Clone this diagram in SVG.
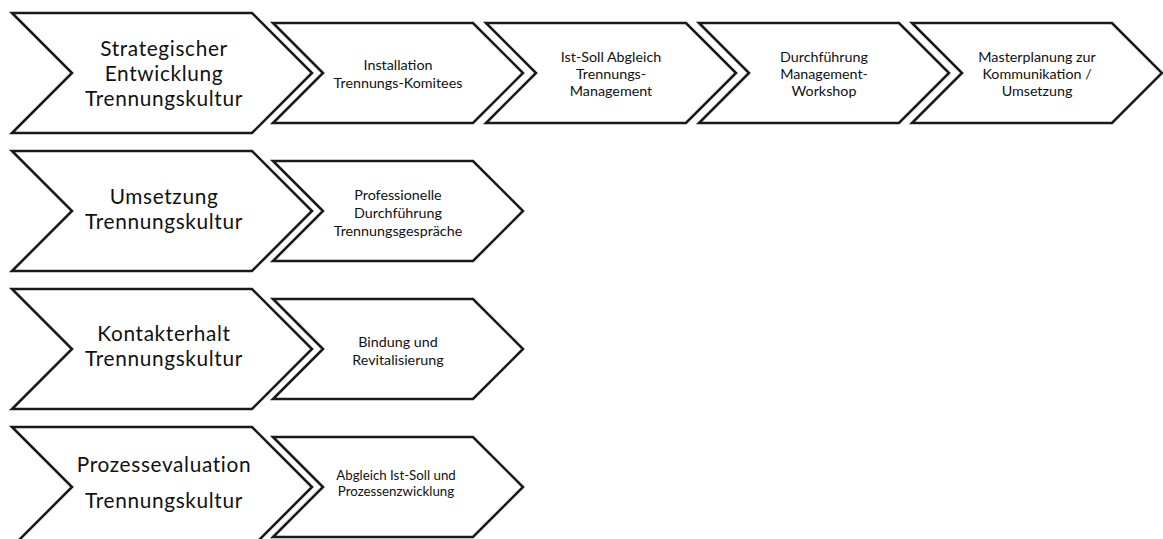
<svg xmlns="http://www.w3.org/2000/svg" xmlns:xlink="http://www.w3.org/1999/xlink" width="1163" height="539" viewBox="0 0 1163 539">
<style>
.shape{fill:#ffffff;stroke:#1a1a1a;stroke-width:2.6;stroke-linejoin:miter}
.big{font-family:Lato,"Open Sans","Liberation Sans",sans-serif;font-size:20.8px;letter-spacing:0.65px;fill:#111;text-anchor:middle}
.small{font-family:Lato,"Open Sans","Liberation Sans",sans-serif;font-size:14.3px;fill:#111;text-anchor:middle}
</style>
<defs>
<polygon id="bigChev" points="12,-60 252,-60 312,0 252,60 12,60 72,0"/>
<polygon id="smallChev" points="0,-50 200,-50 250,0 200,50 0,50 50,0"/>
</defs>
<rect width="1163" height="539" fill="#ffffff"/>
<g id="connectors"></g>

<g id="row1-main" transform="translate(0,73)">
<use xlink:href="#bigChev" class="shape"/>
<text class="big"><tspan x="164" y="-17">Strategischer</tspan><tspan x="164" y="8">Entwicklung</tspan><tspan x="164" y="33">Trennungskultur</tspan></text>
</g>
<g id="row1-step1" transform="translate(273,73)">
<use xlink:href="#smallChev" class="shape"/>
<text class="small"><tspan x="125" y="-3">Installation</tspan><tspan x="125" y="14.5">Trennungs-Komitees</tspan></text>
</g>
<g id="row1-step2" transform="translate(486,73)">
<use xlink:href="#smallChev" class="shape"/>
<text class="small"><tspan x="125" y="-11.5">Ist-Soll Abgleich</tspan><tspan x="125" y="5.5">Trennungs-</tspan><tspan x="125" y="22.5">Management</tspan></text>
</g>
<g id="row1-step3" transform="translate(699,73)">
<use xlink:href="#smallChev" class="shape"/>
<text class="small"><tspan x="125" y="-11.5">Durchführung</tspan><tspan x="125" y="5.5">Management-</tspan><tspan x="125" y="22.5">Workshop</tspan></text>
</g>
<g id="row1-step4" transform="translate(912,73)">
<use xlink:href="#smallChev" class="shape"/>
<text class="small"><tspan x="125" y="-11.5">Masterplanung zur</tspan><tspan x="125" y="5.5">Kommunikation /</tspan><tspan x="125" y="22.5">Umsetzung</tspan></text>
</g>

<g id="row2-main" transform="translate(0,211)">
<use xlink:href="#bigChev" class="shape"/>
<text class="big"><tspan x="164" y="-7">Umsetzung</tspan><tspan x="164" y="18">Trennungskultur</tspan></text>
</g>
<g id="row2-step1" transform="translate(273,211)">
<use xlink:href="#smallChev" class="shape"/>
<text class="small"><tspan x="125" y="-11">Professionelle</tspan><tspan x="125" y="7">Durchführung</tspan><tspan x="125" y="25">Trennungsgespräche</tspan></text>
</g>

<g id="row3-main" transform="translate(0,349)">
<use xlink:href="#bigChev" class="shape"/>
<text class="big"><tspan x="164" y="-8">Kontakterhalt</tspan><tspan x="164" y="17">Trennungskultur</tspan></text>
</g>
<g id="row3-step1" transform="translate(273,349)">
<use xlink:href="#smallChev" class="shape"/>
<text class="small"><tspan x="125" y="-2">Bindung und</tspan><tspan x="125" y="16">Revitalisierung</tspan></text>
</g>

<g id="row4-main" transform="translate(0,487)">
<use xlink:href="#bigChev" class="shape"/>
<text class="big"><tspan x="164" y="-15">Prozessevaluation</tspan><tspan x="164" y="21">Trennungskultur</tspan></text>
</g>
<g id="row4-step1" transform="translate(273,487)">
<use xlink:href="#smallChev" class="shape"/>
<text class="small" style="font-size:13.3px"><tspan x="123" y="-7">Abgleich Ist-Soll und</tspan><tspan x="123" y="9">Prozessenzwicklung</tspan></text>
</g>
</svg>
